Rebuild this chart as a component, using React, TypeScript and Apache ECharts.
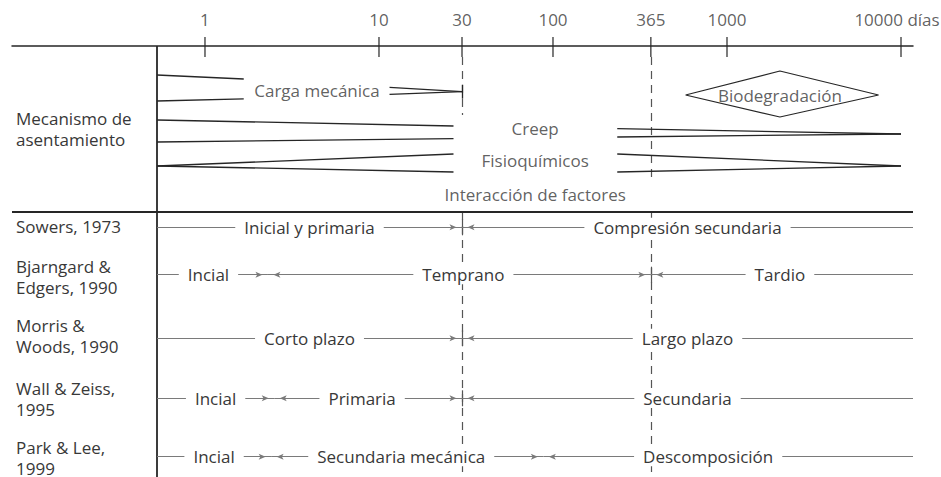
import React, { useEffect, useRef } from "react";
import * as echarts from "echarts";

// ---------------- data ----------------
// time axis (days, logarithmic)
const TICK_DAYS = [1, 10, 30, 100, 365, 1000, 10000];
const TICK_LABELS = ["1", "10", "30", "100", "365", "1000", "10000 días"];
const AXIS_MIN_DAYS = 0.0778;
const AXIS_MAX_DAYS = 11720;
const START_DAYS = 0.53; // left border of the time table
const END_DAYS = 11720; // right end of the phase lines
const DASHED_DAYS = [30, 365];

// mechanisms of settlement
const MECH_TITLE = "Mecanismo de\nasentamiento";
const MECH_NAMES = ["Carga mecánica", "Creep", "Fisioquímicos", "Interacción de factores", "Biodegradación"];
const MECH_LABEL_DAYS = [4.4, 79, 79, 79, 2014];
// wedge breakpoints (days): start, text-gap start, text-gap end, end
const CARGA_DAYS = [0.53, 1.67, 11.5, 30];
const CREEP_DAYS = [0.53, 26.8, 234, 10000];
const FISIO_DAYS = [0.53, 26.8, 234, 10000];
// biodegradation diamond (days): left tip, centre, right tip
const BIODEG_DAYS = [578, 2014, 7430];

// authors and their phases
const AUTHORS = ["Sowers, 1973", "Bjarngard &\nEdgers, 1990", "Morris &\nWoods, 1990", "Wall & Zeiss,\n1995", "Park & Lee,\n1999"];
const PHASE_NAMES = [
  ["Inicial y primaria", "Compresión secundaria"],
  ["Incial", "Temprano", "Tardio"],
  ["Corto plazo", "Largo plazo"],
  ["Incial", "Primaria", "Secundaria"],
  ["Incial", "Secundaria mecánica", "Descomposición"],
];
const PHASE_BOUNDS_DAYS = [[30], [2.3, 365], [30], [2.5, 30], [2.4, 88]];

// ---------------- layout (vertical positions, px below the time axis) ----------------
const Y_MAX = 431;
const CARGA_TOP_Y = [29, 33, 41.3, 45.7];
const CARGA_BOT_Y = [55, 52.8, 48.3, 45.7];
const CREEP_TOP_Y = [74, 80, 82.7, 88];
const CREEP_BOT_Y = [96, 92.7, 91, 88];
const FISIO_TOP_Y = [120, 108, 108, 120];
const FISIO_BOT_Y = [120, 126, 126, 120];
const MECH_LABEL_Y = [44, 82, 114, 148, 49];
const BIODEG_Y = [25, 49, 71]; // top, middle, bottom
const DIVIDER_Y = 166;
const AUTHOR_ROW_Y = [181.3, 228.7, 292.3, 352.3, 410.7];
const PHASE_LABEL_SHIFT = [[0, 0], [-4, 4, -2], [0, 0], [0, -6, 0], [0, -6, -20]];
const DASHED_SPANS = [
  [[11, 69], [166, Y_MAX]],
  [[11, 131], [166, Y_MAX]],
];
// left column labels (page px)
const MECH_TITLE_PX = 129;
const AUTHOR_LABEL_PX = [226, 277, 336, 399, 458];

const FONT = "'Open Sans', 'Noto Sans', sans-serif";
const FS = 17;
const TEXT = "#383838";
const DARK = "#262626";
const GRAY = "#7a7a7a";

function buildOption() {
  const seg = (d0: number, y0: number, d1: number, y1: number) => [
    { coord: [d0, y0] },
    { coord: [d1, y1] },
  ];

  // dashed guide lines
  const dashed: any[] = [];
  DASHED_DAYS.forEach((d, i) => DASHED_SPANS[i].forEach(([a, b]) => dashed.push(seg(d, a, d, b))));

  // structure: mechanism wedges
  const structure: any[] = [];
  const wedge = (days: number[], ys: number[]) => {
    structure.push(seg(days[0], ys[0], days[1], ys[1]));
    structure.push(seg(days[2], ys[2], days[3], ys[3]));
  };
  wedge(CARGA_DAYS, CARGA_TOP_Y);
  wedge(CARGA_DAYS, CARGA_BOT_Y);
  wedge(CREEP_DAYS, CREEP_TOP_Y);
  wedge(CREEP_DAYS, CREEP_BOT_Y);
  wedge(FISIO_DAYS, FISIO_TOP_Y);
  wedge(FISIO_DAYS, FISIO_BOT_Y);
  // end mark of the mechanical load at 30 days
  structure.push(seg(CARGA_DAYS[3], CARGA_TOP_Y[3] - 7, CARGA_DAYS[3], CARGA_BOT_Y[3] + 7));

  const dividerLines = [
    seg(START_DAYS, 0, START_DAYS, Y_MAX),
    seg(AXIS_MIN_DAYS, DIVIDER_Y, AXIS_MAX_DAYS, DIVIDER_Y),
  ];

  // author phases
  const ARROW: [number, number] = [4.5, 7];
  const phases: any[] = [];
  const bTicks: any[] = [];
  AUTHORS.forEach((_, r) => {
    const bounds = [START_DAYS, ...PHASE_BOUNDS_DAYS[r], END_DAYS];
    const y = AUTHOR_ROW_Y[r];
    const names = PHASE_NAMES[r];
    names.forEach((name, k) => {
      phases.push([
        {
          name,
          coord: [bounds[k], y],
          symbol: k > 0 ? "arrow" : "none",
          symbolSize: ARROW,
          symbolOffset: [0, 5.5],
          label: { offset: [PHASE_LABEL_SHIFT[r][k], 0] },
        },
        {
          coord: [bounds[k + 1], y],
          symbol: k < names.length - 1 ? "arrow" : "none",
          symbolSize: ARROW,
          symbolOffset: [0, 5.5],
        },
      ]);
    });
    PHASE_BOUNDS_DAYS[r].forEach((b) => {
      if (DASHED_DAYS.includes(b)) bTicks.push(seg(b, y - 8, b, y + 8));
    });
  });

  const labelStyle = { fontFamily: FONT, fontSize: FS, color: TEXT };

  return {
    animation: false,
    grid: { left: 12, right: 28, top: 46, bottom: 0, containLabel: false },
    xAxis: {
      type: "log",
      logBase: 10,
      min: AXIS_MIN_DAYS,
      max: AXIS_MAX_DAYS,
      position: "top",
      axisLine: { show: true, onZero: false, lineStyle: { color: DARK, width: 1.5 } },
      axisTick: { show: false },
      axisLabel: { show: false },
      splitLine: { show: false },
    },
    yAxis: { type: "value", inverse: true, min: 0, max: Y_MAX, show: false },
    graphic: [
      {
        type: "text",
        x: 16,
        y: MECH_TITLE_PX,
        style: { text: MECH_TITLE, fill: TEXT, fontFamily: FONT, fontSize: FS, lineHeight: 21, verticalAlign: "middle" },
      },
      ...AUTHORS.map((a, i) => ({
        type: "text",
        x: 16,
        y: AUTHOR_LABEL_PX[i],
        style: { text: a, fill: TEXT, fontFamily: FONT, fontSize: FS, lineHeight: 21, verticalAlign: "middle" },
      })),
    ],
    series: [
      {
        type: "line",
        z: 1,
        data: [],
        markLine: {
          silent: true,
          symbol: "none",
          label: { show: false },
          lineStyle: { color: "#555", width: 1.2, type: [8, 6] },
          data: dashed,
        },
      },
      {
        type: "line",
        z: 2,
        data: [],
        markLine: {
          silent: true,
          symbol: "none",
          label: { show: false },
          lineStyle: { color: DARK, width: 1.3, type: "solid" },
          data: structure,
        },
      },
      {
        type: "line",
        z: 2,
        data: [],
        markLine: {
          silent: true,
          symbol: "none",
          label: { show: false },
          lineStyle: { color: DARK, width: 1.8, type: "solid" },
          data: dividerLines,
        },
      },
      {
        type: "line",
        z: 2,
        data: [],
        markLine: {
          silent: true,
          symbol: "none",
          label: { show: false },
          lineStyle: { color: "#555", width: 1.2, type: "solid" },
          data: bTicks,
        },
      },
      {
        type: "line",
        z: 3,
        data: [],
        markLine: {
          silent: true,
          symbol: "none",
          lineStyle: { color: GRAY, width: 1.2, type: "solid" },
          itemStyle: { color: GRAY },
          label: {
            show: true,
            position: "insideMiddle",
            distance: 0,
            formatter: "{b}",
            backgroundColor: "#fff",
            padding: [1, 9],
            ...labelStyle,
          },
          emphasis: { disabled: true },
          data: phases,
        },
      },
      {
        type: "line",
        z: 2,
        symbol: "none",
        silent: true,
        lineStyle: { color: DARK, width: 1.2 },
        data: [
          [BIODEG_DAYS[0], BIODEG_Y[1]],
          [BIODEG_DAYS[1], BIODEG_Y[0]],
          [BIODEG_DAYS[2], BIODEG_Y[1]],
          [BIODEG_DAYS[1], BIODEG_Y[2]],
          [BIODEG_DAYS[0], BIODEG_Y[1]],
        ],
      },
      {
        type: "scatter",
        z: 4,
        silent: true,
        clip: false,
        symbolSize: 1,
        itemStyle: { color: "transparent" },
        label: { show: true, position: "inside", formatter: "{b}", ...labelStyle },
        data: MECH_NAMES.map((n, i) => ({ name: n, value: [MECH_LABEL_DAYS[i], MECH_LABEL_Y[i]] })),
      },
      {
        type: "scatter",
        z: 4,
        silent: true,
        clip: false,
        symbol: "rect",
        symbolSize: [1.5, 20],
        itemStyle: { color: DARK },
        label: { show: true, position: "top", distance: 9, formatter: "{b}", ...labelStyle },
        data: TICK_DAYS.map((d, i) => ({
          name: TICK_LABELS[i],
          value: [d, 1],
          label: i === TICK_DAYS.length - 1 ? { offset: [-4, 0] } : undefined,
        })),
      },
    ],
  };
}

export default function App() {
  const ref = useRef<HTMLDivElement>(null);
  useEffect(() => {
    if (!ref.current) return;
    const chart = echarts.init(ref.current, undefined, { renderer: "svg" });
    chart.setOption(buildOption() as any);
    return () => chart.dispose();
  }, []);
  return (
    <div
      ref={ref}
      style={{ position: "absolute", left: 0, top: 0, width: 941, height: 477, background: "#fff" }}
    />
  );
}
